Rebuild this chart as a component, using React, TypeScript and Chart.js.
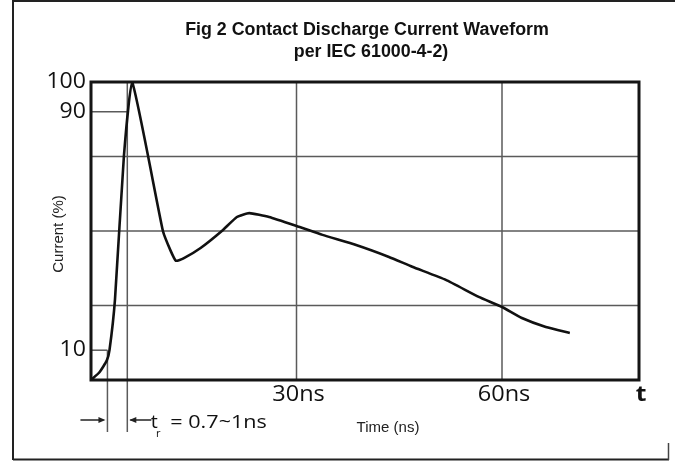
import React, { useEffect, useRef } from "react";
import { Chart, registerables } from "chart.js";

Chart.register(...registerables);

const timeNs = [0, 1.2, 2.3, 2.7, 3.5, 4.8, 6, 10.5, 11.6, 12.4, 13.5, 16, 19.1, 21.3, 23.1, 26, 30, 33.8, 38.7, 43.5, 46.9, 51.8, 56.6, 60, 62.9, 66.4, 69.9];
const currentPct = [0, 2.5, 6.5, 10, 27, 75, 100, 50, 43.5, 40, 40.8, 44.3, 50, 54.7, 56, 54.7, 51.7, 48.7, 45.3, 41.3, 38, 33.6, 27.9, 24.5, 20.8, 17.8, 15.8];

const yTickValues = [10, 90, 100];
const yTickLabels = ["10", "90", "100"];
const xTickValues = [30, 60, 80];
const xTickLabels = ["30ns", "60ns", "t"];
const yGridValues = [25, 50, 75];
const xGridValues = [30, 60];
const riseStartNs = 2.4;
const riseEndNs = 5.3;

const titleLines = ["Fig 2 Contact Discharge Current Waveform", "per IEC 61000-4-2)"];
const yAxisTitle = "Current (%)";
const xAxisTitle = "Time (ns)";
const riseLabel = "= 0.7~1ns";

function drawText(ctx: CanvasRenderingContext2D, s: string, x: number, y: number, font: string, align: CanvasTextAlign, sx = 1, color = "#111") {
  ctx.save();
  ctx.translate(x, y);
  ctx.scale(sx, 1);
  ctx.font = font;
  ctx.fillStyle = color;
  ctx.textAlign = align;
  ctx.textBaseline = "middle";
  ctx.fillText(s, 0, 0);
  ctx.restore();
}

function line(ctx: CanvasRenderingContext2D, x1: number, y1: number, x2: number, y2: number, color: string, w: number) {
  ctx.save();
  ctx.strokeStyle = color;
  ctx.lineWidth = w;
  ctx.beginPath();
  ctx.moveTo(x1, y1);
  ctx.lineTo(x2, y2);
  ctx.stroke();
  ctx.restore();
}

function arrowHead(ctx: CanvasRenderingContext2D, x: number, y: number, dir: number) {
  ctx.save();
  ctx.fillStyle = "#222";
  ctx.beginPath();
  ctx.moveTo(x, y);
  ctx.lineTo(x - dir * 7, y - 3);
  ctx.lineTo(x - dir * 7, y + 3);
  ctx.closePath();
  ctx.fill();
  ctx.restore();
}

const gridPlugin = {
  id: "customGrid",
  beforeDatasetsDraw(chart: any) {
    const ctx = chart.ctx as CanvasRenderingContext2D;
    const { left, right, top, bottom } = chart.chartArea;
    const xs = chart.scales.x;
    const ys = chart.scales.y;
    const g = "#5a5a5a";
    yGridValues.forEach((v) => {
      const y = ys.getPixelForValue(v);
      line(ctx, left, y, right, y, g, 1.5);
    });
    xGridValues.forEach((v) => {
      const x = xs.getPixelForValue(v);
      line(ctx, x, top, x, bottom, g, 1.5);
    });
    const xe = xs.getPixelForValue(riseEndNs);
    const xsr = xs.getPixelForValue(riseStartNs);
    line(ctx, xe, top, xe, bottom + 52, g, 1.5);
    line(ctx, xsr, ys.getPixelForValue(10), xsr, bottom + 52, g, 1.5);
    line(ctx, left, ys.getPixelForValue(90), xe, ys.getPixelForValue(90), g, 1.5);
    line(ctx, left, ys.getPixelForValue(10), xsr, ys.getPixelForValue(10), g, 1.5);
    ctx.save();
    ctx.strokeStyle = "#151515";
    ctx.lineWidth = 3;
    ctx.strokeRect(left, top, right - left, bottom - top);
    ctx.restore();
  },
  afterDraw(chart: any) {
    const ctx = chart.ctx as CanvasRenderingContext2D;
    const { left, bottom } = chart.chartArea;
    const xs = chart.scales.x;
    const ys = chart.scales.y;
    line(ctx, 13, 1, 675, 1, "#222", 2);
    line(ctx, 13, 0, 13, 460, "#222", 2);
    line(ctx, 13, 459.5, 669, 459.5, "#222", 2);
    line(ctx, 668.5, 443, 668.5, 460, "#444", 1.5);
    drawText(ctx, titleLines[0], 367, 30, "bold 18px 'Liberation Sans', Arial, sans-serif", "center", 0.99);
    drawText(ctx, titleLines[1], 371, 52, "bold 18px 'Liberation Sans', Arial, sans-serif", "center", 0.99);
    yTickValues.forEach((v, i) => {
      drawText(ctx, yTickLabels[i], left - 5, ys.getPixelForValue(v), "500 21px 'Open Sans', sans-serif", "right", 1.1);
    });
    xTickValues.forEach((v, i) => {
      const isT = xTickLabels[i] === "t";
      drawText(ctx, xTickLabels[i], xs.getPixelForValue(v) + 2, bottom + 15, isT ? "bold 22px 'Open Sans', sans-serif" : "500 21px 'Open Sans', sans-serif", "center", 1.12);
    });
    ctx.save();
    ctx.translate(left - 32, ys.getPixelForValue(49));
    ctx.rotate(-Math.PI / 2);
    drawText(ctx, yAxisTitle, 0, 0, "15px 'Liberation Sans', Arial, sans-serif", "center", 1, "#222");
    ctx.restore();
    drawText(ctx, xAxisTitle, 388, 428, "15px 'Liberation Sans', Arial, sans-serif", "center", 1, "#222");
    const xsr = xs.getPixelForValue(riseStartNs);
    const xe = xs.getPixelForValue(riseEndNs);
    const ay = bottom + 40;
    line(ctx, xsr - 27, ay, xsr - 4, ay, "#222", 1.5);
    arrowHead(ctx, xsr - 2, ay, 1);
    line(ctx, xe + 3, ay, xe + 24, ay, "#222", 1.5);
    arrowHead(ctx, xe + 2, ay, -1);
    drawText(ctx, "t", xe + 27, ay + 3, "500 18px 'Open Sans', sans-serif", "center", 1.1);
    drawText(ctx, "r", xe + 31, ay + 14, "500 11px 'Open Sans', sans-serif", "center", 1);
    drawText(ctx, riseLabel, xe + 43, ay + 3, "500 18px 'Open Sans', sans-serif", "left", 1.2);
  },
};

export default function App() {
  const ref = useRef<HTMLCanvasElement | null>(null);
  useEffect(() => {
    if (!ref.current) return;
    const chart = new Chart(ref.current, {
      type: "line",
      data: {
        datasets: [
          {
            data: timeNs.map((t, i) => ({ x: t, y: currentPct[i] })),
            borderColor: "#111",
            borderWidth: 2.6,
            pointRadius: 0,
            tension: 0.15,
            fill: false,
          },
        ],
      },
      options: {
        responsive: false,
        animation: false,
        layout: { padding: { left: 91, right: 36, top: 82, bottom: 81 } },
        plugins: { legend: { display: false }, tooltip: { enabled: false }, title: { display: false } },
        scales: {
          x: { type: "linear", min: 0, max: 80, display: false },
          y: { type: "linear", min: 0, max: 100, display: false },
        },
      },
      plugins: [gridPlugin],
    });
    return () => chart.destroy();
  }, []);
  return (
    <div style={{ position: "fixed", left: 0, top: 0, width: 675, height: 461, background: "#fff" }}>
      <canvas ref={ref} width={675} height={461} style={{ display: "block" }} />
    </div>
  );
}
